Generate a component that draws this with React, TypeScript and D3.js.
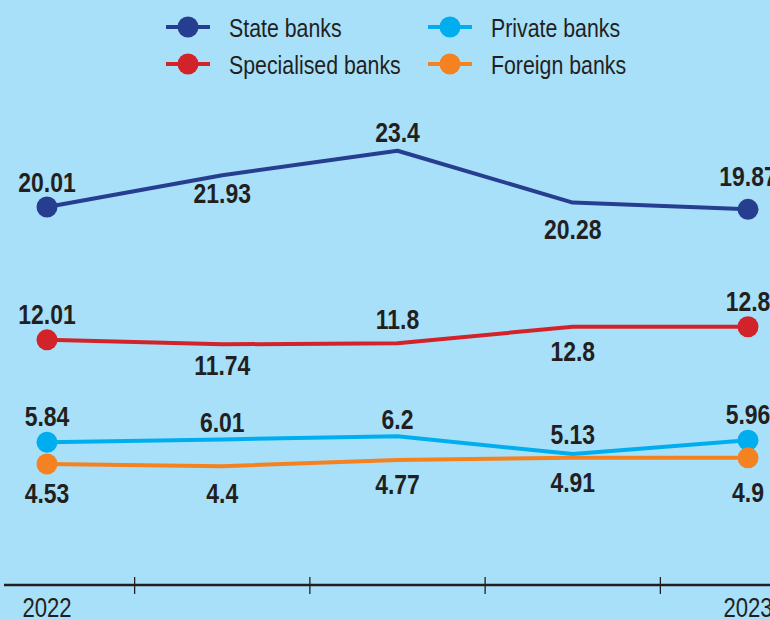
import * as d3 from "d3";
import type { ReactNode } from "react";

// x positions: five observations, only the first and last are labelled
const periods = ["2022", "p2", "p3", "p4", "2023"];
const periodLabels = ["2022", "", "", "", "2023"];

const seriesNames = ["State banks", "Specialised banks", "Private banks", "Foreign banks"];
const seriesColors = ["#263e8f", "#d2232a", "#00aeef", "#f58220"];

const stateBanks = [20.01, 21.93, 23.4, 20.28, 19.87];
const specialisedBanks = [12.01, 11.74, 11.8, 12.8, 12.8];
const privateBanks = [5.84, 6.01, 6.2, 5.13, 5.96];
const foreignBanks = [4.53, 4.4, 4.77, 4.91, 4.9];

// where each value label sits relative to its point (baseline offset, px)
const stateDy = [-15, 28, -9, 36, -23];
const specialisedDy = [-16, 31, -14, 34, -16];
const privateDy = [-16, -7, -7, -10, -16];
const foreignDy = [39, 37, 34, 34, 44];

const W = 770;
const H = 620;
const FONT = "'Liberation Sans', Arial, sans-serif";
const INK = "#231f20";
const SQUEEZE = 0.82; // condensed look

type NTProps = {
  x: number;
  y: number;
  size: number;
  bold?: boolean;
  anchor?: "start" | "middle" | "end";
  children: ReactNode;
};

// horizontally condensed text
const NarrowText = ({ x, y, size, bold, anchor = "start", children }: NTProps) => (
  <g transform={`translate(${x},${y}) scale(${SQUEEZE},1)`}>
    <text fontSize={size} fontWeight={bold ? "bold" : "normal"} textAnchor={anchor} fill={INK}>
      {children}
    </text>
  </g>
);

export default function App() {
  const x = d3.scalePoint<string>().domain(periods).range([47, 748]);
  const y = d3.scaleLinear().domain([0, 24]).range([539.2, 140.8]);

  const series = [stateBanks, specialisedBanks, privateBanks, foreignBanks];
  const dys = [stateDy, specialisedDy, privateDy, foreignDy];

  const line = d3
    .line<number>()
    .x((_, i) => x(periods[i]) ?? 0)
    .y((d) => y(d));

  // ticks fall half way between the observations
  const tickXs = periods.slice(1).map((p, i) => ((x(periods[i]) ?? 0) + (x(p) ?? 0)) / 2);

  const axisY = 585;

  const legendPos = [
    [188, 27],
    [188, 64],
    [450, 27],
    [450, 64],
  ];

  return (
    <svg
      width={W}
      height={H}
      style={{ position: "absolute", left: 0, top: 0, background: "#a8e0f9" }}
      fontFamily={FONT}
    >
      <rect width={W} height={H} fill="#a8e0f9" />

      {seriesNames.map((name, s) => {
        const [cx, cy] = legendPos[s];
        return (
          <g key={name}>
            <line x1={cx - 22} x2={cx + 22} y1={cy} y2={cy} stroke={seriesColors[s]} strokeWidth={4} />
            <circle cx={cx} cy={cy} r={10.5} fill={seriesColors[s]} />
            <NarrowText x={cx + 41} y={cy + 9.5} size={26}>
              {name}
            </NarrowText>
          </g>
        );
      })}

      <line x1={4} x2={W} y1={axisY} y2={axisY} stroke={INK} strokeWidth={2.7} />
      {tickXs.map((tx, i) => (
        <line key={i} x1={tx} x2={tx} y1={axisY - 8} y2={axisY + 9} stroke={INK} strokeWidth={1.3} />
      ))}
      {periods.map((p, i) => (
        <NarrowText key={p} x={x(p) ?? 0} y={617} size={27} anchor="middle">
          {periodLabels[i]}
        </NarrowText>
      ))}

      {series.map((vals, s) => (
        <g key={seriesNames[s]}>
          <path d={line(vals) ?? ""} fill="none" stroke={seriesColors[s]} strokeWidth={4} strokeLinejoin="round" />
          {[0, vals.length - 1].map((i) => (
            <circle key={i} cx={x(periods[i])} cy={y(vals[i])} r={10.5} fill={seriesColors[s]} />
          ))}
        </g>
      ))}

      {series.map((vals, s) =>
        vals.map((v, i) => (
          <NarrowText key={`${s}-${i}`} x={x(periods[i]) ?? 0} y={y(v) + dys[s][i]} size={28} bold anchor="middle">
            {String(v)}
          </NarrowText>
        ))
      )}
    </svg>
  );
}
